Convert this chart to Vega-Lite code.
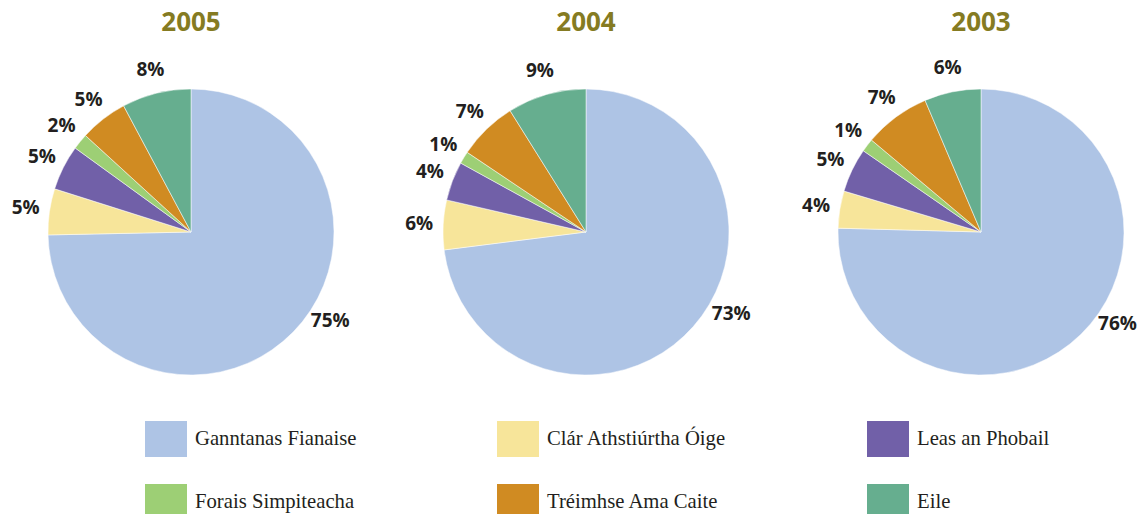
{
  "$schema": "https://vega.github.io/schema/vega-lite/v6.json",
  "background": "white",
  "padding": {"left": 11, "top": 10, "right": 5, "bottom": 5},
  "bounds": "flush",
  "data": {"values": [
    {"year": "2005", "k": 1, "cat": "Ganntanas Fianaise", "value": 74.6, "label": "75%"},
    {"year": "2005", "k": 2, "cat": "Clár Athstiúrtha Óige", "value": 5.2, "label": "5%"},
    {"year": "2005", "k": 3, "cat": "Leas an Phobail", "value": 5.1, "label": "5%"},
    {"year": "2005", "k": 4, "cat": "Forais Simpiteacha", "value": 1.8, "label": "2%"},
    {"year": "2005", "k": 5, "cat": "Tréimhse Ama Caite", "value": 5.4, "label": "5%"},
    {"year": "2005", "k": 6, "cat": "Eile", "value": 7.8, "label": "8%"},
    {"year": "2004", "k": 1, "cat": "Ganntanas Fianaise", "value": 73.0, "label": "73%"},
    {"year": "2004", "k": 2, "cat": "Clár Athstiúrtha Óige", "value": 5.6, "label": "6%"},
    {"year": "2004", "k": 3, "cat": "Leas an Phobail", "value": 4.4, "label": "4%"},
    {"year": "2004", "k": 4, "cat": "Forais Simpiteacha", "value": 1.4, "label": "1%"},
    {"year": "2004", "k": 5, "cat": "Tréimhse Ama Caite", "value": 6.7, "label": "7%"},
    {"year": "2004", "k": 6, "cat": "Eile", "value": 8.9, "label": "9%"},
    {"year": "2003", "k": 1, "cat": "Ganntanas Fianaise", "value": 75.5, "label": "76%"},
    {"year": "2003", "k": 2, "cat": "Clár Athstiúrtha Óige", "value": 4.2, "label": "4%"},
    {"year": "2003", "k": 3, "cat": "Leas an Phobail", "value": 5.0, "label": "5%"},
    {"year": "2003", "k": 4, "cat": "Forais Simpiteacha", "value": 1.5, "label": "1%"},
    {"year": "2003", "k": 5, "cat": "Tréimhse Ama Caite", "value": 7.5, "label": "7%"},
    {"year": "2003", "k": 6, "cat": "Eile", "value": 6.4, "label": "6%"}
  ]},
  "facet": {
    "column": {
      "field": "year", "type": "ordinal", "sort": ["2005", "2004", "2003"],
      "header": {
        "title": null,
        "labelFont": "Open Sans", "labelFontSize": 26, "labelFontWeight": "bold",
        "labelColor": "#857b22", "labelPadding": 46
      }
    }
  },
  "spacing": 95,
  "resolve": {"scale": {"theta": "independent"}},
  "spec": {
    "width": 300,
    "height": 300,
    "encoding": {
      "theta": {"field": "value", "type": "quantitative", "stack": true},
      "order": {"field": "k", "type": "quantitative"}
    },
    "layer": [
      {
        "mark": {"type": "arc", "radius": 143, "stroke": "#ffffff", "strokeWidth": 0.5},
        "encoding": {
          "color": {
            "field": "cat", "type": "nominal",
            "scale": {
              "domain": ["Ganntanas Fianaise", "Clár Athstiúrtha Óige", "Leas an Phobail", "Forais Simpiteacha", "Tréimhse Ama Caite", "Eile"],
              "range": ["#aec4e5", "#f7e59a", "#7160a8", "#9dcf75", "#d08b22", "#66ae8f"]
            },
            "legend": {
              "title": null,
              "orient": "none", "legendX": 104, "legendY": 336,
              "direction": "horizontal", "columns": 3,
              "symbolType": "M-1,-0.857H1V0.857H-1Z", "symbolSize": 1764,
              "symbolStrokeWidth": 0, "symbolOpacity": 1,
              "labelFont": "Liberation Serif", "labelFontSize": 20.7, "labelColor": "#231f20",
              "labelOffset": 8, "labelLimit": 400,
              "columnPadding": 140, "rowPadding": 24
            }
          }
        }
      },
      {
        "mark": {"type": "text", "radius": 167, "font": "Open Sans", "fontSize": 19, "fontWeight": "bold", "color": "#231f20", "align": "center", "baseline": "middle"},
        "encoding": {
          "text": {"field": "label", "type": "nominal"},
          "opacity": {"condition": {"test": "datum.k == 1", "value": 0}, "value": 1}
        }
      },
      {
        "mark": {"type": "text", "radius": 167, "dx": 20, "dy": -28, "font": "Open Sans", "fontSize": 19, "fontWeight": "bold", "color": "#231f20", "align": "center", "baseline": "middle"},
        "encoding": {
          "text": {"field": "label", "type": "nominal"},
          "opacity": {"condition": {"test": "datum.k == 1", "value": 1}, "value": 0}
        }
      }
    ]
  },
  "config": {
    "view": {"stroke": null},
    "facet": {"spacing": 95}
  }
}
